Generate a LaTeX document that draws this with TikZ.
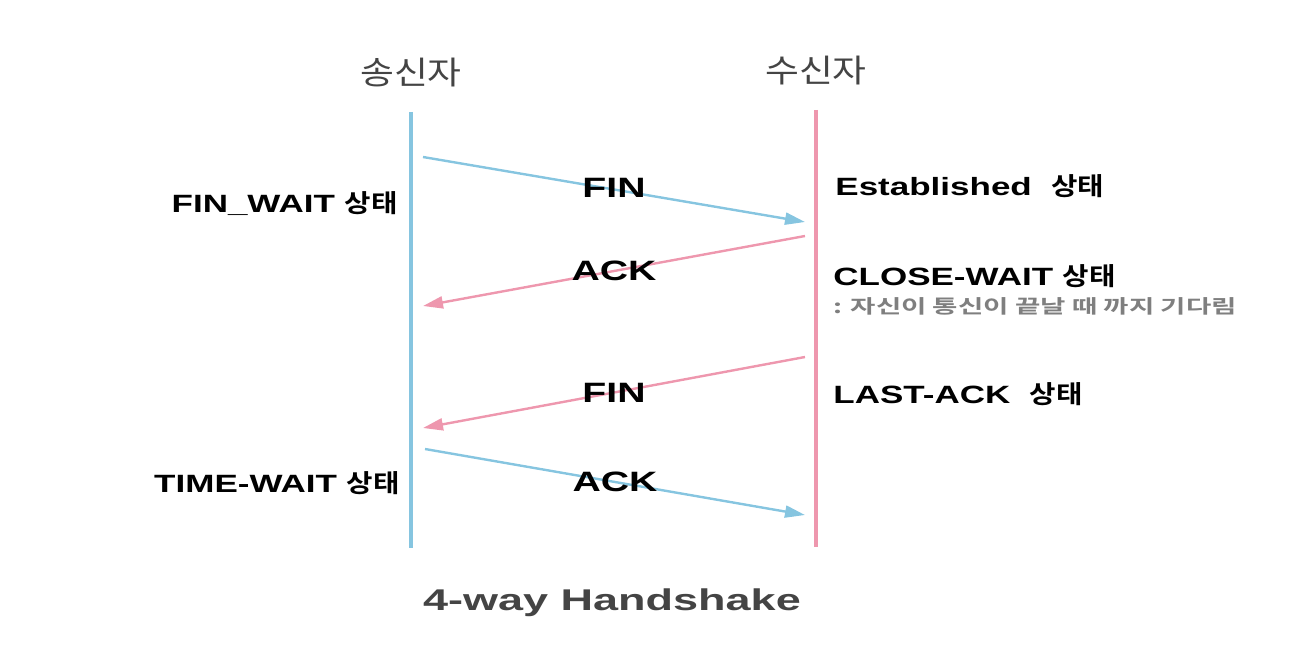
\documentclass[tikz,border=0pt]{standalone}
\usepackage{fontspec}
\setmainfont{Liberation Sans}[FakeStretch=1.4]
\newfontfamily\krfont{Noto Sans CJK KR}[FakeStretch=1.15,BoldFont={Noto Sans CJK KR Bold}]
\newfontfamily\notefont{Noto Sans CJK KR Bold}[FakeStretch=1.45]
\newfontfamily\titlefont{Liberation Sans Bold}[FakeStretch=1.5]
\newcommand{\ko}[1]{{\krfont #1}}
\usetikzlibrary{arrows.meta}
\definecolor{sendblue}{HTML}{86C5E0}
\definecolor{recvpink}{HTML}{EE97AE}
\definecolor{headgray}{HTML}{444444}
\definecolor{notegray}{HTML}{7F7F7F}

\tikzset{
  lifeline/.style={line width=2pt},
  msg/.style={line width=1.2pt,-{Triangle[length=10pt,width=6pt]}},
  msglabel/.style={font=\bfseries\fontsize{14}{16}\selectfont,inner sep=0pt,text=black},
  state/.style={font=\bfseries\fontsize{12.5}{14}\selectfont,inner sep=0pt},
  party/.style={font=\fontsize{16}{18}\selectfont,text=headgray,inner sep=0pt},
}

\begin{document}
\begin{tikzpicture}[x=0.5pt,y=-0.5pt]
\useasboundingbox (0,0) rectangle (1316,658);

% lifelines
\node[party] (sender) at (411,73) {\ko{송신자}};
\node[party] (receiver) at (816,71) {\ko{수신자}};
\coordinate (s top) at (411,112);
\coordinate (s bot) at (411,548);
\coordinate (r top) at (816,110);
\coordinate (r bot) at (816,547);
\draw[lifeline,sendblue] (s top) -- (s bot);
\draw[lifeline,recvpink] (r top) -- (r bot);

% message end points
\coordinate (s1) at (423,157);
\coordinate (r1) at (805,222);
\coordinate (r2) at (805,236);
\coordinate (s2) at (423,306);
\coordinate (r3) at (805,357);
\coordinate (s3) at (423,428);
\coordinate (s4) at (425,449);
\coordinate (r4) at (805,515);

\draw[msg,sendblue] (s1) -- node[msglabel,yshift=1pt]{FIN} (r1);
\draw[msg,recvpink] (r2) -- node[msglabel]{ACK} (s2);
\draw[msg,recvpink] (r3) -- node[msglabel]{FIN} (s3);
\draw[msg,sendblue] (s4) -- node[msglabel]{ACK} (r4);

% states
\node[state,anchor=east] (finwait) at (398,204) {FIN\_WAIT \ko{\bfseries 상태}};
\node[state,anchor=east] (timewait) at (400,483) {TIME-WAIT \ko{\bfseries 상태}};
\node[state,anchor=west] (estab) at (835,186) {Established\ \ \ko{\bfseries 상태}};
\node[state,anchor=west] (closewait) at (833,276) {CLOSE-WAIT \ko{\bfseries 상태}};
\node[anchor=west,inner sep=0pt,text=notegray,font=\notefont\fontsize{9.5}{11}\selectfont] (note) at (833,306) {: 자신이 통신이 끝날 때 까지 기다림};
\node[state,anchor=west] (lastack) at (833,394) {LAST-ACK\ \ \ko{\bfseries 상태}};

\node[font=\titlefont\fontsize{15}{18}\selectfont,text=headgray,inner sep=0pt] (title) at (612,603) {4-way Handshake};
\end{tikzpicture}
\end{document}
